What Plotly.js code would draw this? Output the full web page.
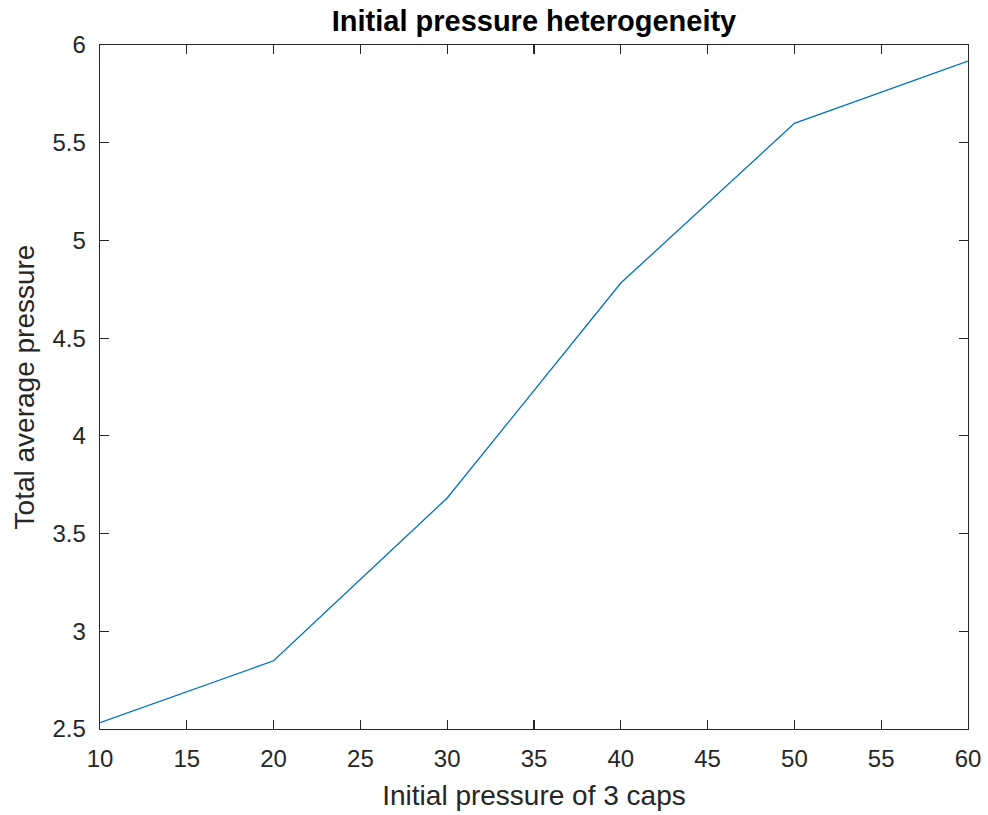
<!DOCTYPE html>
<html>
<head>
<meta charset="utf-8">
<script src="https://cdn.plot.ly/plotly-3.0.1.min.js"></script>
<style>html,body{margin:0;padding:0;background:#fff;}#chart{width:988px;height:815px;}</style>
</head>
<body>
<div id="chart"></div>
<script>
const capPressure = [10, 20, 30, 40, 50, 60];
const avgPressure = [2.532, 2.849, 3.682, 4.782, 5.599, 5.918];
const xTicks = [10, 15, 20, 25, 30, 35, 40, 45, 50, 55, 60];
const yTicks = [2.5, 3, 3.5, 4, 4.5, 5, 5.5, 6];
const yTickText = ['2.5', '3', '3.5', '4', '4.5', '5', '5.5', '6'];

const FONT = 'Liberation Sans, Arial, sans-serif';
const axisCommon = {
  showgrid: false, zeroline: false, showline: true, mirror: 'ticks',
  linecolor: '#262626', linewidth: 1.3, ticks: 'inside', ticklen: 9,
  tickcolor: '#262626', tickwidth: 1.2,
  tickfont: {family: FONT, size: 24, color: '#262626'}
};

Plotly.newPlot('chart', [{
  x: capPressure, y: avgPressure, type: 'scatter', mode: 'lines',
  line: {color: '#0072BD', width: 1.3}
}], {
  width: 988, height: 815,
  margin: {l: 100, r: 20, t: 45, b: 86},
  paper_bgcolor: '#fff', plot_bgcolor: '#fff',
  showlegend: false,
  title: {text: '<b>Initial pressure heterogeneity</b>', x: 0.5, xref: 'paper',
    yref: 'container', y: 1 - 21 / 815, yanchor: 'middle',
    font: {family: FONT, size: 29, color: '#000'}},
  xaxis: Object.assign({}, axisCommon, {
    range: [10, 60], tickvals: xTicks, ticktext: xTicks.map(String),
    ticklabelstandoff: 8,
    title: {text: 'Initial pressure of 3 caps', standoff: 14,
      font: {family: FONT, size: 28, color: '#262626'}}
  }),
  yaxis: Object.assign({}, axisCommon, {
    range: [2.5, 6], tickvals: yTicks, ticktext: yTickText,
    ticklabelstandoff: 8,
    title: {text: 'Total average pressure', standoff: 9,
      font: {family: FONT, size: 28, color: '#262626'}}
  })
}, {displayModeBar: false, staticPlot: true});
</script>
</body>
</html>
